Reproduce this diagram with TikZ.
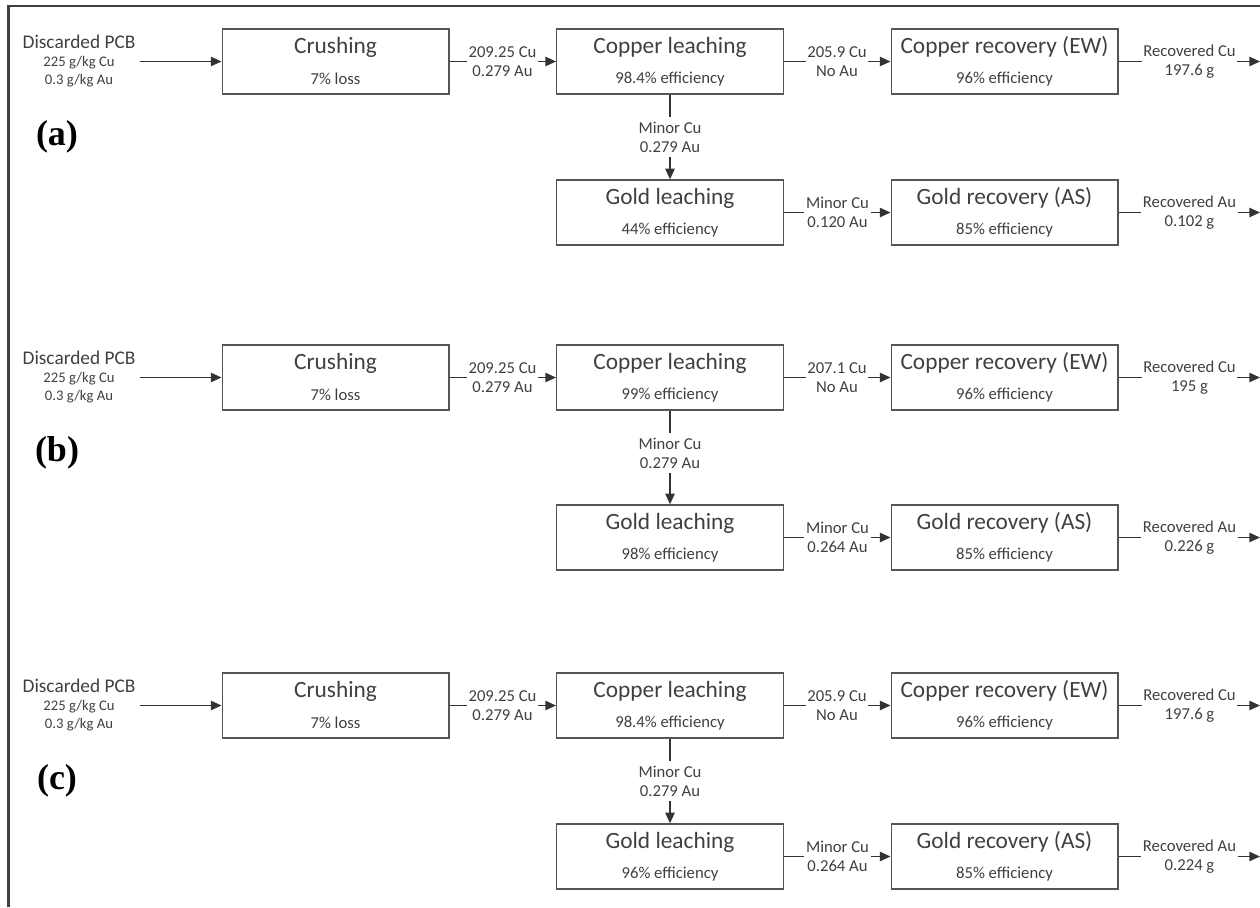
\documentclass[tikz,border=0pt]{standalone}
\usepackage{fontspec}
\setmainfont{Carlito}
\newfontfamily\harfYazi{Liberation Serif}
\usetikzlibrary{arrows.meta}
\definecolor{koyuGri}{HTML}{404040}
\definecolor{kutuGri}{HTML}{555555}
\definecolor{okGri}{HTML}{333333}
% one panel: letter, y offset, gold row shift, Cu leach eff., Cu to EW, Cu out, Au leach eff., Au to AS, Au out
\newcommand{\akis}[9]{%
\begin{scope}[shift={(0,#2)},name prefix=#1-]
\node[harf] (harf) at (57,137) {(#1)};
\node[girdi] (pcb) at (79,61.5) {{\fontsize{14.5}{13.5}\selectfont Discarded PCB}\\225 g/kg Cu\\0.3 g/kg Au};
\node[kutu,label={[baslik]north:Crushing},label={[altyazi]south:7\% loss}] (kirma) at (335.5,61.5) {};
\node[kutu,label={[baslik]north:Copper leaching},label={[altyazi]south:#4\% efficiency}] (bakirLic) at (670,61.5) {};
\node[kutu,label={[baslik]north:Copper recovery (EW)},label={[altyazi]south:96\% efficiency}] (bakirKaz) at (1004.5,61.5) {};
\node[kutu,label={[baslik]north:Gold leaching},label={[altyazi]south:#7\% efficiency}] (altinLic) at (670,{212.5+#3}) {};
\node[kutu,label={[baslik]north:Gold recovery (AS)},label={[altyazi]south:85\% efficiency}] (altinKaz) at (1004.5,{212.5+#3}) {};
\node[etiket] (e1) at (502.5,61.5) {209.25 Cu\\0.279 Au};
\node[etiket] (e2) at (837,61.5) {#5 Cu\\No Au};
\node[etiket] (e3) at (670,137) {Minor Cu\\0.279 Au};
\node[etiket] (e4) at (837.5,{212.5+#3}) {Minor Cu\\#8 Au};
\node[etiket] (e5) at (1189.5,61.5) {Recovered Cu\\#6 g};
\node[etiket] (e6) at (1189.5,{212.5+#3}) {Recovered Au\\#9 g};
\coordinate (cuSon) at (1260,61.5);
\coordinate (auSon) at (1260,{212.5+#3});
\draw[hat,ok] (pcb.east |- kirma.west) -- (kirma.west);
\draw[hat] (kirma.east) -- (e1.west);
\draw[hat,ok] (e1.east) -- (bakirLic.west);
\draw[hat] (bakirLic.east) -- (e2.west);
\draw[hat,ok] (e2.east) -- (bakirKaz.west);
\draw[hat] (bakirKaz.east) -- (e5.west);
\draw[hat,ok] (e5.east) -- (cuSon);
\draw[hat] (bakirLic.south) -- (e3.north);
\draw[hat,ok] (e3.south) -- (altinLic.north);
\draw[hat] (altinLic.east) -- (e4.west);
\draw[hat,ok] (e4.east) -- (altinKaz.west);
\draw[hat] (altinKaz.east) -- (e6.west);
\draw[hat,ok] (e6.east) -- (auSon);
\end{scope}}

\begin{document}
\begin{tikzpicture}[x=0.75pt,y=-0.75pt,
  kutu/.style={draw=kutuGri,line width=1pt,minimum width=170pt,minimum height=48.75pt,inner sep=0pt},
  baslik/.style={anchor=center,yshift=-14.25pt,text=koyuGri,font=\fontsize{17.5}{21}\selectfont},
  altyazi/.style={anchor=center,yshift=12pt,text=koyuGri,font=\fontsize{12.5}{15}\selectfont},
  etiket/.style={align=center,text=koyuGri,inner xsep=1pt,inner ysep=3pt,font=\fontsize{12.5}{14.5}\selectfont},
  girdi/.style={align=center,text=koyuGri,inner sep=3pt,font=\fontsize{11}{13.5}\selectfont},
  harf/.style={font=\harfYazi\bfseries\fontsize{27}{30}\selectfont,text=black},
  ok/.style={-{Triangle[length=8pt,width=7pt]}},
  hat/.style={draw=okGri,line width=1.1pt}]
\useasboundingbox (0,0) rectangle (1260,907);
\fill[white] (0,0) rectangle (1260,907);
\draw[koyuGri,line width=1.6pt] (8.5,907) -- (8.5,6) -- (1260,6);
\akis{a}{0}{0}{98.4}{205.9}{197.6}{44}{0.120}{0.102}
\akis{b}{316}{9}{99}{207.1}{195}{98}{0.264}{0.226}
\akis{c}{644}{0}{98.4}{205.9}{197.6}{96}{0.264}{0.224}
\end{tikzpicture}
\end{document}
